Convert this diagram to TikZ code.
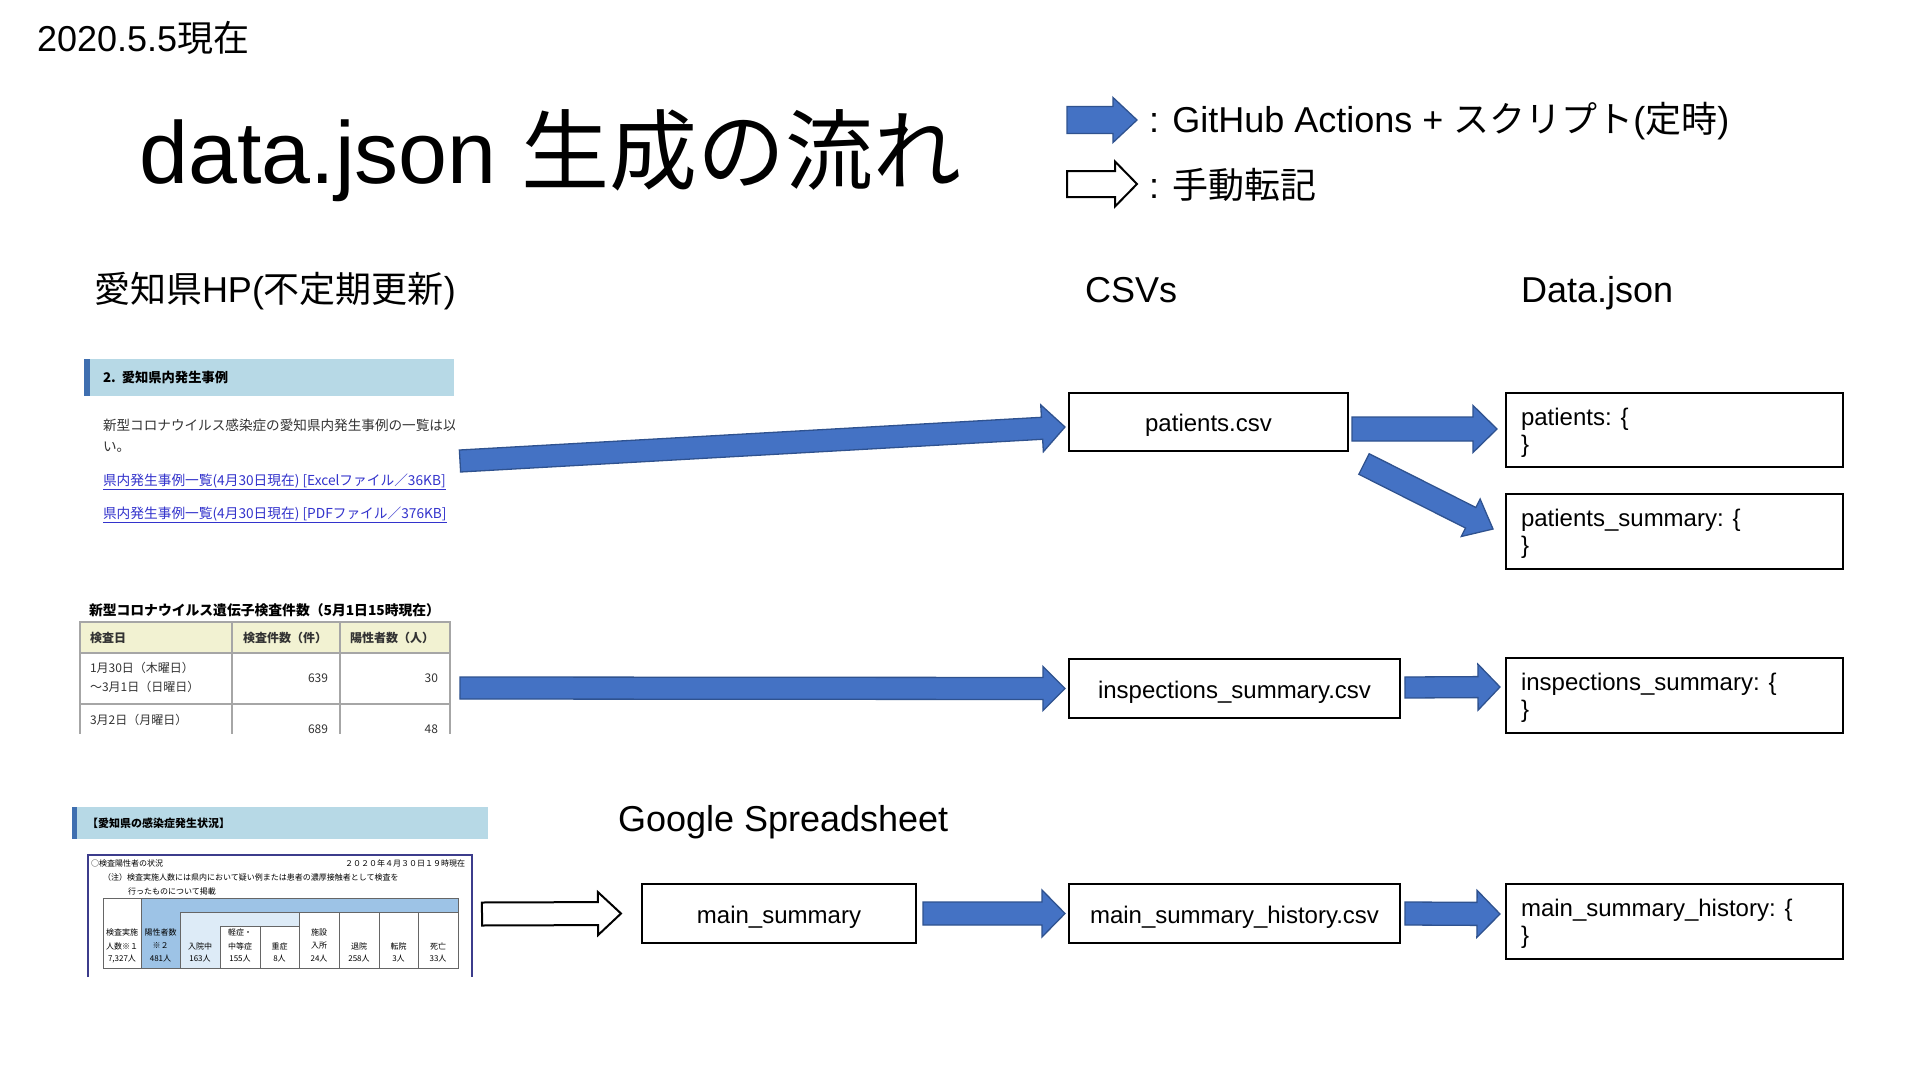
\documentclass[tikz,border=0pt]{standalone}
\usepackage{fontspec}
\setmainfont{Liberation Sans}
\newfontfamily\jp{Noto Sans CJK JP}
\usetikzlibrary{calc}
\definecolor{arrowblue}{HTML}{4472C4}
\definecolor{arrowedge}{HTML}{2F528F}
\definecolor{barblue}{HTML}{B7D9E6}
\definecolor{stripeblue}{HTML}{3F6FB0}
\definecolor{linkblue}{HTML}{3333CC}
\definecolor{hdryellow}{HTML}{F2F2D2}
\definecolor{tblgray}{HTML}{A6A6A6}
\definecolor{framenavy}{HTML}{3C3C8C}
\definecolor{bandblue}{HTML}{9DC3E6}
\definecolor{paleblue}{HTML}{DDEBF7}
\definecolor{webtext}{HTML}{333333}
\newcommand\fs[1]{\fontsize{#1}{#1}\selectfont}
% block arrow: #1 style, #2 tail, #3 tip, #4 shaft half width, #5 head half width, #6 head length
\newcommand\blkarrow[6]{%
  \coordinate (ba-s) at #2;
  \coordinate (ba-e) at #3;
  \coordinate (ba-h) at ($(ba-e)!#6!(ba-s)$);
  \draw[#1] ($(ba-s)!#4!90:(ba-e)$) -- ($(ba-h)!#4!-90:(ba-s)$) -- ($(ba-h)!#5!-90:(ba-s)$)
    -- (ba-e) -- ($(ba-h)!#5!90:(ba-s)$) -- ($(ba-h)!#4!90:(ba-s)$) -- ($(ba-s)!#4!-90:(ba-e)$) -- cycle;
}
\tikzset{
  every node/.style={inner sep=0pt, outer sep=0pt},
  databox/.style={draw=black, line width=2.2pt, fill=white},
  csvbox/.style={databox, font=\fs{24}, text height=20.5pt, text depth=1.5pt},
  jtext/.style={anchor=base west, font=\fs{24}},
  hdr/.style={anchor=base west, font=\fs{36}},
  bluearrow/.style={fill=arrowblue, draw=arrowedge, line width=1.3pt, line join=miter},
  whitearrow/.style={fill=white, draw=black, line width=2pt, line join=miter},
  web/.style={anchor=west, font=\jp\fs{13.6}, text=webtext},
  weblink/.style={anchor=west, font=\jp\fs{13.7}, text=linkblue},
  tbl/.style={font=\jp\fs{12}, text=webtext},
  tiny/.style={font=\jp\fs{8}, text=black},
  tline/.style={draw=black!60, line width=0.8pt},
}
\begin{document}
\begin{tikzpicture}[x=1pt,y=-1pt]
\fill[white] (0,0) rectangle (1907,1065);
\useasboundingbox (0,0) rectangle (1907,1065);

% ---------- headings ----------
\node[anchor=base west, font=\fs{36}] (date) at (37,52) {2020.5.5{\jp 現在}};
\node[anchor=base west, font=\fs{88}] (title) at (139.5,183) {data.json {\jp 生成の流れ}};
\node[hdr] (hp) at (94,302) {{\jp 愛知県}HP({\jp 不定期更新})};
\node[hdr] (csvs) at (1085,302) {CSVs};
\node[hdr] (dj) at (1521,302) {Data.json};
\node[hdr] (gs) at (618,831) {Google Spreadsheet};

% ---------- legend ----------
\blkarrow{bluearrow}{(1067,120)}{(1137,120)}{13.5pt}{22.5pt}{24pt}
\blkarrow{whitearrow}{(1067,184)}{(1137,184)}{13pt}{22.5pt}{22pt}
\node[hdr] (leg1) at (1149,132) {: GitHub Actions + {\jp スクリプト}({\jp 定時})};
\node[hdr] (leg2) at (1149,198) {: {\jp 手動転記}};

% ---------- screenshot 1 ----------
\begin{scope}
\clip (82,355) rectangle (454.5,532);
\fill[barblue] (84,359) rectangle (454,396);
\fill[stripeblue] (84,359) rectangle (90,396);
\node[anchor=west, font=\jp\bfseries\fs{13.3}, text=black] (s1h) at (103,377.5) {2.\hspace{6pt}愛知県内発生事例};
\node[web] (s1b1) at (103,425) {新型コロナウイルス感染症の愛知県内発生事例の一覧は以下};
\node[web] (s1b2) at (103,447) {い。};
\node[weblink] (s1l1) at (103,482) {\underline{県内発生事例一覧(4月30日現在) [Excelファイル／36KB]}};
\node[weblink] (s1l2) at (103,515) {\underline{県内発生事例一覧(4月30日現在) [PDFファイル／376KB]}};
\end{scope}

% ---------- screenshot 2 ----------
\begin{scope}
\clip (75,595) rectangle (456,733);
\node[anchor=west, font=\jp\bfseries\fs{13.8}, text=black] (s2t) at (89,610) {新型コロナウイルス遺伝子検査件数（5月1日15時現在）};
\fill[hdryellow] (80,622) rectangle (450,653);
\draw[tblgray, line width=1.3pt] (80,622) rectangle (450,770);
\draw[tblgray, line width=1.3pt] (80,653) -- (450,653) (80,704) -- (450,704)
  (232,622) -- (232,770) (340,622) -- (340,770);
\node[tbl, anchor=west, font=\jp\bfseries\fs{12}] (h1) at (90,638) {検査日};
\node[tbl, anchor=west, font=\jp\bfseries\fs{12}] (h2) at (243,638) {検査件数（件）};
\node[tbl, anchor=west, font=\jp\bfseries\fs{12}] (h3) at (350,638) {陽性者数（人）};
\node[tbl, anchor=west] (r1a) at (90,668) {1月30日（木曜日）};
\node[tbl, anchor=west] (r1b) at (90,687) {～3月1日（日曜日）};
\node[tbl, anchor=east] (r1c) at (328,678) {639};
\node[tbl, anchor=east] (r1d) at (438,678) {30};
\node[tbl, anchor=west] (r2a) at (90,720) {3月2日（月曜日）};
\node[tbl, anchor=east] (r2c) at (328,729) {689};
\node[tbl, anchor=east] (r2d) at (438,729) {48};
\end{scope}

% ---------- screenshot 3 ----------
\fill[barblue] (72,807) rectangle (488,839);
\fill[stripeblue] (72,807) rectangle (77,839);
\node[anchor=west, font=\jp\bfseries\fs{11}, text=black] (s3h) at (87,823) {【愛知県の感染症発生状況】};
\draw[framenavy, line width=1.6pt] (88,977) -- (88,855) -- (472,855) -- (472,977);
\node[tiny, anchor=west] (s3a) at (91,863) {○検査陽性者の状況};
\node[tiny, anchor=east] (s3b) at (465,863) {２０２０年４月３０日１９時現在};
\node[tiny, anchor=west] (s3c) at (103,877) {（注）検査実施人数には県内において疑い例または患者の濃厚接触者として検査を};
\node[tiny, anchor=west] (s3d) at (128,891) {行ったものについて掲載};
\fill[bandblue] (141,898) rectangle (458,912);
\fill[bandblue] (141,912) rectangle (180,968);
\fill[paleblue] (180,912) rectangle (299,926);
\fill[paleblue] (180,926) rectangle (220,968);
\draw[tline] (103,898) rectangle (458,968);
\draw[tline] (141,898) -- (141,968) (180,912) -- (180,968) (220,926) -- (220,968)
  (260,926) -- (260,968) (299,912) -- (299,968) (339,912) -- (339,968)
  (379,912) -- (379,968) (418,912) -- (418,968)
  (180,912) -- (458,912) (220,926) -- (299,926);
\node[tiny] (c1a) at (122,932) {検査実施};
\node[tiny] (c1b) at (122,946) {人数※１};
\node[tiny] (c1c) at (122,959) {7,327人};
\node[tiny] (c2a) at (160.5,932) {陽性者数};
\node[tiny] (c2b) at (160.5,946) {※２};
\node[tiny] (c2c) at (160.5,959) {481人};
\node[tiny] (c3b) at (200,946) {入院中};
\node[tiny] (c3c) at (200,959) {163人};
\node[tiny] (c4a) at (240,932) {軽症・};
\node[tiny] (c4b) at (240,946) {中等症};
\node[tiny] (c4c) at (240,959) {155人};
\node[tiny] (c5b) at (279.5,946) {重症};
\node[tiny] (c5c) at (279.5,959) {8人};
\node[tiny] (c6a) at (319,932) {施設};
\node[tiny] (c6b) at (319,946) {入所};
\node[tiny] (c6c) at (319,959) {24人};
\node[tiny] (c7b) at (359,946) {退院};
\node[tiny] (c7c) at (359,959) {258人};
\node[tiny] (c8b) at (398.5,946) {転院};
\node[tiny] (c8c) at (398.5,959) {3人};
\node[tiny] (c9b) at (438,946) {死亡};
\node[tiny] (c9c) at (438,959) {33人};

% ---------- boxes ----------
\node[csvbox, minimum width=279pt, minimum height=58pt, anchor=north west] (pcsv) at (1069,393) {patients.csv};
\node[csvbox, minimum width=331pt, minimum height=59pt, anchor=north west] (iscsv) at (1069,659) {inspections\_summary.csv};
\node[csvbox, minimum width=331pt, minimum height=59pt, anchor=north west] (mshcsv) at (1069,884) {main\_summary\_history.csv};
\node[csvbox, minimum width=274pt, minimum height=59pt, anchor=north west] (ms) at (642,884) {main\_summary};

\node[databox, minimum width=337pt, minimum height=74pt, anchor=north west] (pj) at (1506,393) {};
\node[databox, minimum width=337pt, minimum height=75pt, anchor=north west] (psj) at (1506,494) {};
\node[databox, minimum width=337pt, minimum height=75pt, anchor=north west] (isj) at (1506,658) {};
\node[databox, minimum width=337pt, minimum height=75pt, anchor=north west] (mshj) at (1506,884) {};
\node[jtext] (pj1) at ($(pj.north west)+(15,32)$) {patients: \{};
\node[jtext] (pj2) at ($(pj.north west)+(15,59)$) {\}};
\node[jtext] (psj1) at ($(psj.north west)+(15,32)$) {patients\_summary: \{};
\node[jtext] (psj2) at ($(psj.north west)+(15,59)$) {\}};
\node[jtext] (isj1) at ($(isj.north west)+(15,32)$) {inspections\_summary: \{};
\node[jtext] (isj2) at ($(isj.north west)+(15,59)$) {\}};
\node[jtext] (mshj1) at ($(mshj.north west)+(15,32)$) {main\_summary\_history: \{};
\node[jtext] (mshj2) at ($(mshj.north west)+(15,59)$) {\}};

% ---------- arrows ----------
\coordinate (tail1) at (460,461);
\coordinate (tail2) at (460,688);
\coordinate (tail3) at (482,914);
\blkarrow{bluearrow}{(tail1)}{($(pcsv.west)+(-4,5)$)}{11pt}{23.5pt}{23pt}
\blkarrow{bluearrow}{(tail2)}{($(iscsv.west)+(-4,0)$)}{11pt}{22pt}{22pt}
\blkarrow{bluearrow}{($(pcsv.east)+(4,7)$)}{($(pj.west)+(-9,-1)$)}{12pt}{23.5pt}{24pt}
\blkarrow{bluearrow}{($(pcsv.south east)+(16,13)$)}{($(psj.west)+(-13,-2.5)$)}{11.5pt}{21pt}{25pt}
\blkarrow{bluearrow}{($(iscsv.east)+(5,-1)$)}{($(isj.west)+(-6,-8.5)$)}{10.5pt}{23pt}{22pt}
\blkarrow{bluearrow}{($(ms.east)+(7,0)$)}{($(mshcsv.west)+(-4,0)$)}{11.5pt}{23.5pt}{23pt}
\blkarrow{bluearrow}{($(mshcsv.east)+(5,0)$)}{($(mshj.west)+(-6,-7.5)$)}{11.5pt}{23.5pt}{23pt}
\blkarrow{whitearrow}{(tail3)}{($(ms.west)+(-21,0)$)}{11.5pt}{21.5pt}{23pt}
\end{tikzpicture}
\end{document}
